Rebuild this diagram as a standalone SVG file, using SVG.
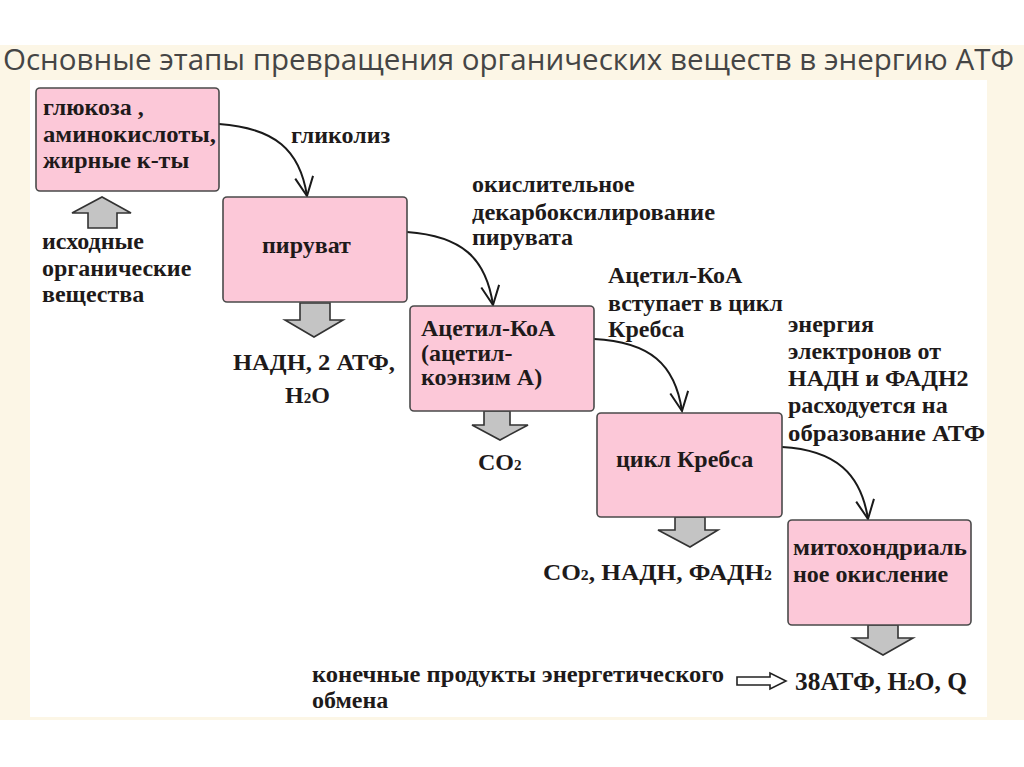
<svg xmlns="http://www.w3.org/2000/svg" width="1024" height="767" viewBox="0 0 1024 767">
  <style>
    .box { fill: #fcc8d8; stroke: #4a4a4a; stroke-width: 1.6; }
    .t { font-family: 'Liberation Serif', 'DejaVu Serif', serif; font-weight: 700; font-size: 24px; fill: #1e1a1a; }
    .conn { fill: none; stroke: #1a1a1a; stroke-width: 2; marker-end: url(#open); }
    .block { fill: #c4c4c4; stroke: #333; stroke-width: 1.6; stroke-linejoin: miter; }
    .title { font-family: 'Open Sans', 'Liberation Sans', sans-serif; font-size: 29px; fill: #454545; }
    .sub { font-size: 15px; }
  </style>
  <defs>
    <marker id="open" markerUnits="userSpaceOnUse" markerWidth="24" markerHeight="24" viewBox="0 0 24 24" refX="20" refY="10" orient="auto">
      <path d="M1,1 L20,10 L1,19" fill="none" stroke="#1a1a1a" stroke-width="2"/>
    </marker>
  </defs>

  <rect x="0" y="0" width="1024" height="767" fill="#ffffff"/>
  <rect x="0" y="45" width="1024" height="675" fill="#fcf6e6"/>
  <rect x="30" y="80" width="957" height="637" fill="#ffffff"/>

  <text class="title" x="3" y="70" textLength="1011" lengthAdjust="spacingAndGlyphs">Основные этапы превращения органических веществ в энергию АТФ</text>

  <g id="connectors">
    <path class="conn" d="M219,124 C275,128 300,150 307,196"/>
    <path class="conn" d="M407,232 C462,236 486,258 493,305"/>
    <path class="conn" d="M594,339 C650,342 675,364 682,411"/>
    <path class="conn" d="M782,447 C836,450 861,474 868,519"/>
    <polygon class="block" points="88,228 88,213 72,213 102,197 131,213 117,213 117,228"/>
    <polygon class="block" points="300,303 330,303 330,320 343,320 314,337 285,320 300,320"/>
    <polygon class="block" points="484,411 510,411 510,425 528,425 500,440 472,425 484,425"/>
    <polygon class="block" points="675,517 705,517 705,530 718,530 690,547 658,530 675,530"/>
    <polygon class="block" points="868,625 898,625 898,638 913,638 883,655 853,638 868,638"/>
    <polygon points="737,677 770,677 770,673 786,681 770,689 770,685 737,685" fill="#ffffff" stroke="#222" stroke-width="1.6"/>
  </g>

  <g id="n1">
    <rect class="box" x="36" y="88" width="183" height="103" rx="4"/>
    <text class="t" x="43" y="115">глюкоза ,</text>
    <text class="t" x="43" y="142" textLength="173" lengthAdjust="spacingAndGlyphs">аминокислоты,</text>
    <text class="t" x="43" y="168">жирные к-ты</text>
  </g>
  <g id="n2">
    <rect class="box" x="223" y="197" width="184" height="105" rx="4"/>
    <text class="t" x="262" y="253">пируват</text>
  </g>
  <g id="n3">
    <rect class="box" x="410" y="306" width="184" height="105" rx="4"/>
    <text class="t" x="421" y="336">Ацетил-КоА</text>
    <text class="t" x="421" y="361">(ацетил-</text>
    <text class="t" x="421" y="385">коэнзим А)</text>
  </g>
  <g id="n4">
    <rect class="box" x="597" y="413" width="185" height="104" rx="4"/>
    <text class="t" x="616" y="467">цикл Кребса</text>
  </g>
  <g id="n5">
    <rect class="box" x="788" y="520" width="183" height="105" rx="4"/>
    <text class="t" x="793" y="555" textLength="174" lengthAdjust="spacingAndGlyphs">митохондриаль</text>
    <text class="t" x="793" y="582">ное окисление</text>
  </g>

  <g id="labels">
    <text class="t" x="291" y="143">гликолиз</text>
    <text class="t" x="42" y="249">исходные</text>
    <text class="t" x="42" y="276">органические</text>
    <text class="t" x="42" y="302">вещества</text>
    <text class="t" x="472" y="192">окислительное</text>
    <text class="t" x="472" y="220" textLength="243" lengthAdjust="spacingAndGlyphs">декарбоксилирование</text>
    <text class="t" x="472" y="245">пирувата</text>
    <text class="t" x="608" y="283">Ацетил-КоА</text>
    <text class="t" x="608" y="311" textLength="175" lengthAdjust="spacingAndGlyphs">вступает в цикл</text>
    <text class="t" x="608" y="337">Кребса</text>
    <text class="t" x="788" y="332">энергия</text>
    <text class="t" x="788" y="359">электронов от</text>
    <text class="t" x="788" y="386">НАДН и ФАДН2</text>
    <text class="t" x="788" y="413">расходуется на</text>
    <text class="t" x="788" y="441" textLength="197" lengthAdjust="spacingAndGlyphs">образование АТФ</text>
    <text class="t" x="233" y="370" textLength="162" lengthAdjust="spacingAndGlyphs">НАДН, 2 АТФ,</text>
    <text class="t" x="285" y="403">H<tspan class="sub">2</tspan>O</text>
    <text class="t" x="478" y="470">CO<tspan class="sub">2</tspan></text>
    <text class="t" x="543" y="580" textLength="229" lengthAdjust="spacingAndGlyphs">CO<tspan class="sub">2</tspan>, НАДН, ФАДН<tspan class="sub">2</tspan></text>
    <text class="t" x="312" y="682" textLength="412" lengthAdjust="spacingAndGlyphs">конечные продукты энергетического</text>
    <text class="t" x="312" y="708">обмена</text>
    <text class="t" x="795" y="690" style="font-size:25px" textLength="172" lengthAdjust="spacingAndGlyphs">38АТФ, H<tspan class="sub">2</tspan>O, Q</text>
  </g>
</svg>
